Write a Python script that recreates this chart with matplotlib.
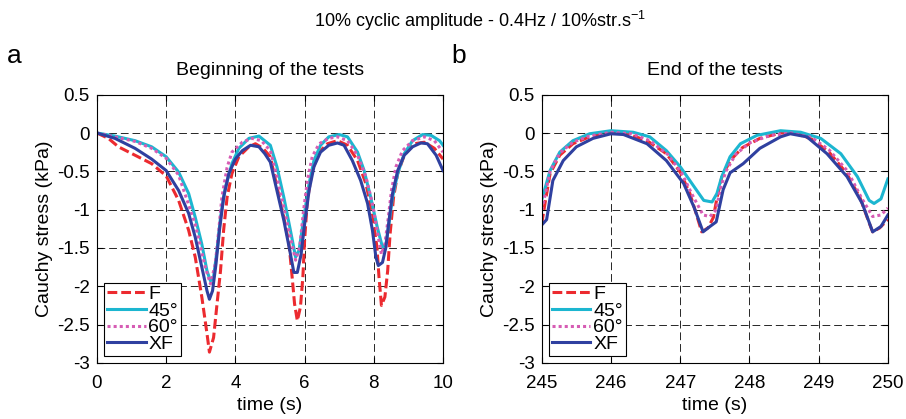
import numpy as np
import matplotlib
matplotlib.use("Agg")
import matplotlib.pyplot as plt

plt.rcParams['font.family'] = ['Liberation Sans', 'DejaVu Sans']

# --- Beginning of the tests (panel a) ---
t_f_a = [0, 0.33, 0.62, 1.1, 1.58, 2.0, 2.36, 2.65, 2.84, 3.03, 3.18, 3.25, 3.37, 3.47,
         3.57, 3.66, 3.76, 3.9, 4.1, 4.39, 4.58, 4.8, 5.01, 5.2, 5.4, 5.55, 5.64, 5.71,
         5.79, 5.88, 5.95, 6.0, 6.08, 6.22, 6.42, 6.66, 6.95, 7.24, 7.53, 7.77, 7.96,
         8.09, 8.15, 8.22, 8.32, 8.4, 8.47, 8.57, 8.69, 8.88, 9.17, 9.46, 9.75, 10]
s_f_a = [0, -0.07, -0.18, -0.29, -0.4, -0.56, -0.88, -1.27, -1.62, -2.14, -2.62, -2.86,
         -2.67, -2.23, -1.8, -1.27, -0.84, -0.53, -0.31, -0.18, -0.14, -0.2, -0.31, -0.7,
         -1.1, -1.45, -1.88, -2.23, -2.45, -2.27, -1.88, -1.4, -0.88, -0.49, -0.25, -0.14,
         -0.1, -0.16, -0.36, -0.66, -1.05, -1.49, -1.88, -2.25, -2.14, -1.8, -1.32, -0.84,
         -0.53, -0.29, -0.14, -0.12, -0.2, -0.34]

t_45_a = [0, 0.52, 1.1, 1.58, 2.0, 2.36, 2.65, 2.84, 3.03, 3.18, 3.28, 3.37, 3.47, 3.57,
          3.71, 3.9, 4.1, 4.39, 4.68, 5.01, 5.2, 5.4, 5.59, 5.74, 5.84, 5.98, 6.13, 6.27,
          6.46, 6.7, 7.0, 7.24, 7.53, 7.72, 7.91, 8.1, 8.25, 8.35, 8.44, 8.54, 8.69, 8.88,
          9.12, 9.41, 9.65, 9.9, 10]
s_45_a = [0, -0.04, -0.1, -0.18, -0.31, -0.51, -0.79, -1.1, -1.45, -1.8, -1.93, -1.88,
          -1.53, -1.1, -0.71, -0.4, -0.2, -0.07, -0.04, -0.16, -0.44, -0.84, -1.27, -1.62,
          -1.53, -1.1, -0.66, -0.36, -0.16, -0.05, -0.02, -0.05, -0.25, -0.49, -0.84,
          -1.23, -1.49, -1.45, -1.18, -0.84, -0.53, -0.27, -0.1, -0.02, -0.03, -0.1, -0.16]

t_60_a = [0, 0.52, 1.1, 1.58, 2.0, 2.36, 2.84, 3.13, 3.28, 3.42, 3.52, 3.61, 3.76, 3.9,
          4.2, 4.48, 4.75, 5.01, 5.2, 5.4, 5.59, 5.74, 5.86, 5.96, 6.08, 6.22, 6.42, 6.7,
          6.95, 7.24, 7.53, 7.77, 7.96, 8.13, 8.22, 8.32, 8.42, 8.51, 8.64, 8.83, 9.12,
          9.46, 9.75, 10]
s_60_a = [0, -0.05, -0.11, -0.2, -0.33, -0.55, -1.19, -1.75, -1.97, -1.71, -1.27, -0.84,
          -0.45, -0.25, -0.12, -0.07, -0.1, -0.23, -0.57, -0.97, -1.36, -1.66, -1.49, -1.05,
          -0.62, -0.31, -0.14, -0.07, -0.05, -0.1, -0.29, -0.57, -0.92, -1.36, -1.58,
          -1.45, -1.1, -0.75, -0.44, -0.23, -0.1, -0.05, -0.1, -0.25]

t_xf_a = [0, 0.52, 1.1, 1.58, 2.0, 2.36, 2.65, 2.84, 3.03, 3.18, 3.25, 3.34, 3.44, 3.54,
          3.66, 3.81, 4.0, 4.2, 4.44, 4.68, 4.85, 5.01, 5.2, 5.4, 5.57, 5.69, 5.79, 5.9,
          6.0, 6.13, 6.27, 6.46, 6.7, 6.95, 7.14, 7.38, 7.62, 7.82, 7.96, 8.06, 8.13, 8.25,
          8.35, 8.44, 8.54, 8.69, 8.88, 9.12, 9.36, 9.55, 9.8, 10]
s_xf_a = [0, -0.07, -0.2, -0.34, -0.49, -0.75, -1.05, -1.36, -1.75, -2.06, -2.17, -2.06,
          -1.71, -1.27, -0.84, -0.53, -0.34, -0.23, -0.16, -0.18, -0.27, -0.38, -0.75,
          -1.14, -1.53, -1.82, -1.82, -1.58, -1.19, -0.75, -0.44, -0.25, -0.16, -0.13,
          -0.16, -0.36, -0.62, -0.92, -1.27, -1.62, -1.73, -1.69, -1.49, -1.14, -0.79,
          -0.49, -0.29, -0.18, -0.13, -0.14, -0.29, -0.49]

# --- End of the tests (panel b) ---
t_f_b = [245, 245.05, 245.12, 245.26, 245.45, 245.69, 246.0, 246.23, 246.52, 246.8, 247.0,
         247.14, 247.24, 247.31, 247.4, 247.48, 247.53, 247.6, 247.72, 247.9, 248.15,
         248.45, 248.65, 248.9, 249.15, 249.4, 249.6, 249.72, 249.78, 249.88, 250]
s_f_b = [-1.18, -0.9, -0.53, -0.29, -0.14, -0.05, 0.01, -0.01, -0.1, -0.27, -0.51, -0.79,
         -1.08, -1.29, -1.24, -1.1, -0.85, -0.58, -0.36, -0.19, -0.07, 0.0, 0.0, -0.08,
         -0.25, -0.52, -0.85, -1.15, -1.29, -1.24, -1.13]

t_45_b = [245, 245.12, 245.26, 245.45, 245.69, 246.0, 246.32, 246.56, 246.8, 247.0, 247.2,
          247.34, 247.46, 247.53, 247.6, 247.72, 247.87, 248.11, 248.45, 248.74, 249.03,
          249.32, 249.56, 249.73, 249.8, 249.9, 250]
s_45_b = [-0.87, -0.49, -0.25, -0.1, -0.01, 0.03, 0.01, -0.05, -0.23, -0.44, -0.7, -0.88,
          -0.9, -0.79, -0.57, -0.31, -0.14, -0.03, 0.03, 0.01, -0.07, -0.27, -0.57, -0.88,
          -0.92, -0.86, -0.6]

t_60_b = [245, 245.05, 245.12, 245.26, 245.45, 245.69, 246.0, 246.3, 246.56, 246.82,
          247.02, 247.17, 247.33, 247.43, 247.52, 247.58, 247.66, 247.8, 248.0, 248.3,
          248.6, 248.9, 249.15, 249.42, 249.62, 249.78, 249.9, 250]
s_60_b = [-1.0, -0.8, -0.5, -0.26, -0.12, -0.04, 0.01, -0.01, -0.1, -0.28, -0.52, -0.8,
          -1.07, -1.09, -1.0, -0.72, -0.5, -0.28, -0.13, -0.03, 0.0, -0.06, -0.22, -0.5,
          -0.85, -1.09, -1.07, -0.98]

t_xf_b = [245, 245.07, 245.16, 245.31, 245.5, 245.74, 246.0, 246.18, 246.52, 246.8, 247.05,
          247.2, 247.33, 247.43, 247.52, 247.62, 247.72, 247.91, 248.15, 248.45, 248.59,
          248.83, 249.12, 249.41, 249.63, 249.78, 249.9, 250]
s_xf_b = [-1.2, -1.13, -0.62, -0.36, -0.18, -0.07, -0.01, -0.02, -0.14, -0.36, -0.66,
          -0.97, -1.29, -1.22, -1.16, -0.74, -0.52, -0.4, -0.2, -0.05, -0.01, -0.05, -0.27,
          -0.57, -0.92, -1.29, -1.22, -1.07]

labels = ["F", "45°", "60°", "XF"]
colors = ["#ec2a2f", "#1cb6d0", "#d65cb4", "#2f40a0"]
styles = [(0, (3.2, 1.3)), "-", (0, (1, 1)), "-"]

fig = plt.figure(figsize=(9.06, 4.19), dpi=100)
ax_a = fig.add_axes([0.107, 0.134, 0.382, 0.640])
ax_b = fig.add_axes([0.598, 0.134, 0.382, 0.640])

panels = [
    (ax_a, [(t_f_a, s_f_a), (t_45_a, s_45_a), (t_60_a, s_60_a), (t_xf_a, s_xf_a)],
     (0, 10), np.arange(0, 11, 2), "Beginning of the tests"),
    (ax_b, [(t_f_b, s_f_b), (t_45_b, s_45_b), (t_60_b, s_60_b), (t_xf_b, s_xf_b)],
     (245, 250), np.arange(245, 251, 1), "End of the tests"),
]

for ax, series, xlim, xticks, title in panels:
    for (t, s), lab, col, ls in zip(series, labels, colors, styles):
        ax.plot(t, s, color=col, linestyle=ls, linewidth=2.2, label=lab)
    ax.set_xlim(*xlim)
    ax.set_ylim(-3, 0.5)
    ax.set_xticks(xticks)
    ax.set_yticks(np.arange(-3, 0.51, 0.5))
    ax.set_yticklabels(["-3", "-2.5", "-2", "-1.5", "-1", "-0.5", "0", "0.5"])
    ax.grid(True, color="black", linestyle=(0, (8, 4)), linewidth=0.7, alpha=0.85)
    ax.tick_params(direction="in", top=True, right=True, labelsize=13.5, length=4)
    ax.tick_params(axis="x", pad=9)
    ax.tick_params(axis="y", pad=5)
    ax.set_xlabel("time (s)", fontsize=14, labelpad=3)
    ax.set_ylabel("Cauchy stress (kPa)", fontsize=14, labelpad=3)
    ax.set_title(title, fontsize=14, pad=14)
    leg = ax.legend(loc="lower left", fontsize=14, handlelength=2.0, handletextpad=0.15,
                    labelspacing=-0.05, borderpad=0.15, borderaxespad=0.35, fancybox=False,
                    framealpha=1)
    leg.get_frame().set_edgecolor("black")
    leg.get_frame().set_linewidth(0.8)

fig.text(0.53, 0.935, r"10% cyclic amplitude - 0.4Hz / 10%str.s$^{\mathregular{-1}}$",
         ha="center", fontsize=13)
fig.text(0.008, 0.85, "a", fontsize=19)
fig.text(0.498, 0.85, "b", fontsize=19)

fig.savefig("out.png", dpi=100)
